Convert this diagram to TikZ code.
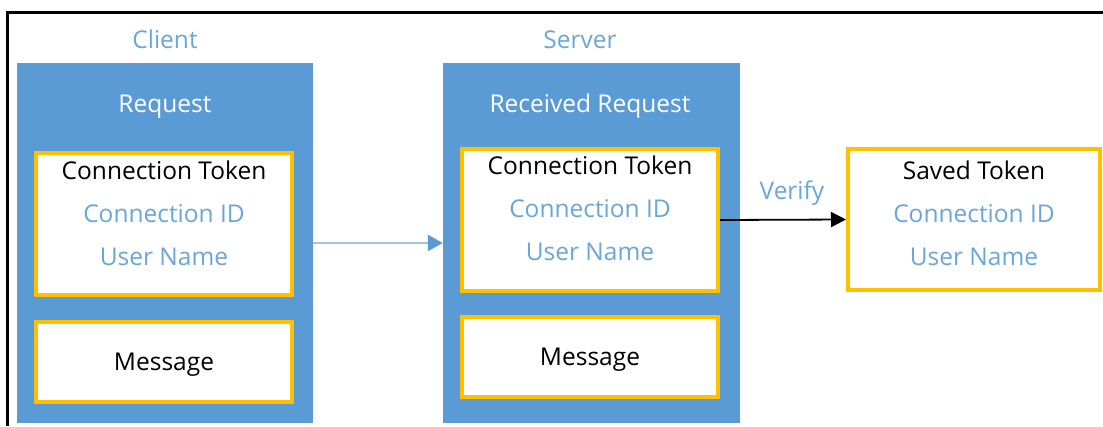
\documentclass[tikz,border=0pt]{standalone}
\usepackage{fontspec}
\setmainfont{Open Sans}
\usetikzlibrary{positioning,arrows.meta}

\definecolor{reqblue}{HTML}{5B9BD5}
\definecolor{linkblue}{HTML}{9DC3E6}
\definecolor{fieldblue}{HTML}{6AA6DC}
\definecolor{tokenyellow}{HTML}{FFC000}

\tikzset{
  txt/.style={inner sep=0pt, text height=20pt, text depth=4pt, font=\fontsize{24.5}{28}\selectfont},
  heading/.style={txt, text=fieldblue},
  reqtitle/.style={txt, text=white},
  keyname/.style={txt, text=black},
  field/.style={txt, text=fieldblue},
  column/.style={fill=reqblue, inner sep=0pt, minimum width=296pt, minimum height=360pt},
  tokenbox/.style={draw=tokenyellow, line width=4pt, fill=white, inner sep=0pt, minimum width=256pt, minimum height=142pt},
  msgbox/.style={tokenbox, minimum height=80pt},
  sendarrow/.style={draw=linkblue, line width=2.5pt, -{Triangle[length=15pt,width=16pt,color=reqblue]}},
  verifyarrow/.style={draw=black, line width=1.8pt, -{Triangle[length=15pt,width=15pt]}},
}

\begin{document}
\begin{tikzpicture}[x=1pt, y=-1pt, node distance=19pt]
  \useasboundingbox (0,0) rectangle (1103,426);
  % outer frame
  \draw[line width=3pt] (7,426) -- (7,12) -- (1103,12);

  % client side
  \node[heading] (clientlbl) at (165,40) {Client};
  \node[column] (client) at (165,243) {};
  \node[reqtitle] (request) at (165,104) {Request};
  \node[tokenbox] (ctoken) at (164,224) {};
  \node[keyname] (ctokenkey) at (164,171) {Connection Token};
  \node[field, below=of ctokenkey] (ctokenid) {Connection ID};
  \node[field, below=of ctokenid] (ctokenuser) {User Name};
  \node[msgbox] (cmsg) at (164,362) {};
  \node[keyname] (cmsgtxt) at (cmsg) {Message};

  % server side
  \node[heading] (serverlbl) at (580,40) {Server};
  \node[column, minimum width=297pt] (server) at (591.5,243) {};
  \node[reqtitle] (received) at (590,104) {Received Request};
  \node[tokenbox] (stoken) at (590,220) {};
  \node[keyname] (stokenkey) at (590,166) {Connection Token};
  \node[field, below=of stokenkey] (stokenid) {Connection ID};
  \node[field, below=of stokenid] (stokenuser) {User Name};
  \node[msgbox] (smsg) at (590,357) {};
  \node[keyname] (smsgtxt) at (smsg) {Message};

  % stored token
  \node[tokenbox, minimum width=252pt, minimum height=141pt] (saved) at (974,219.5) {};
  \node[keyname] (savedkey) at (974,171) {Saved Token};
  \node[field, below=of savedkey] (savedid) {Connection ID};
  \node[field, below=of savedid] (saveduser) {User Name};

  % links
  \draw[sendarrow] (client.east) -- (server.west);
  \draw[verifyarrow] (stoken.east) -- node[heading, above=15pt, xshift=9pt] (verify) {Verify} (saved.west);
\end{tikzpicture}
\end{document}
